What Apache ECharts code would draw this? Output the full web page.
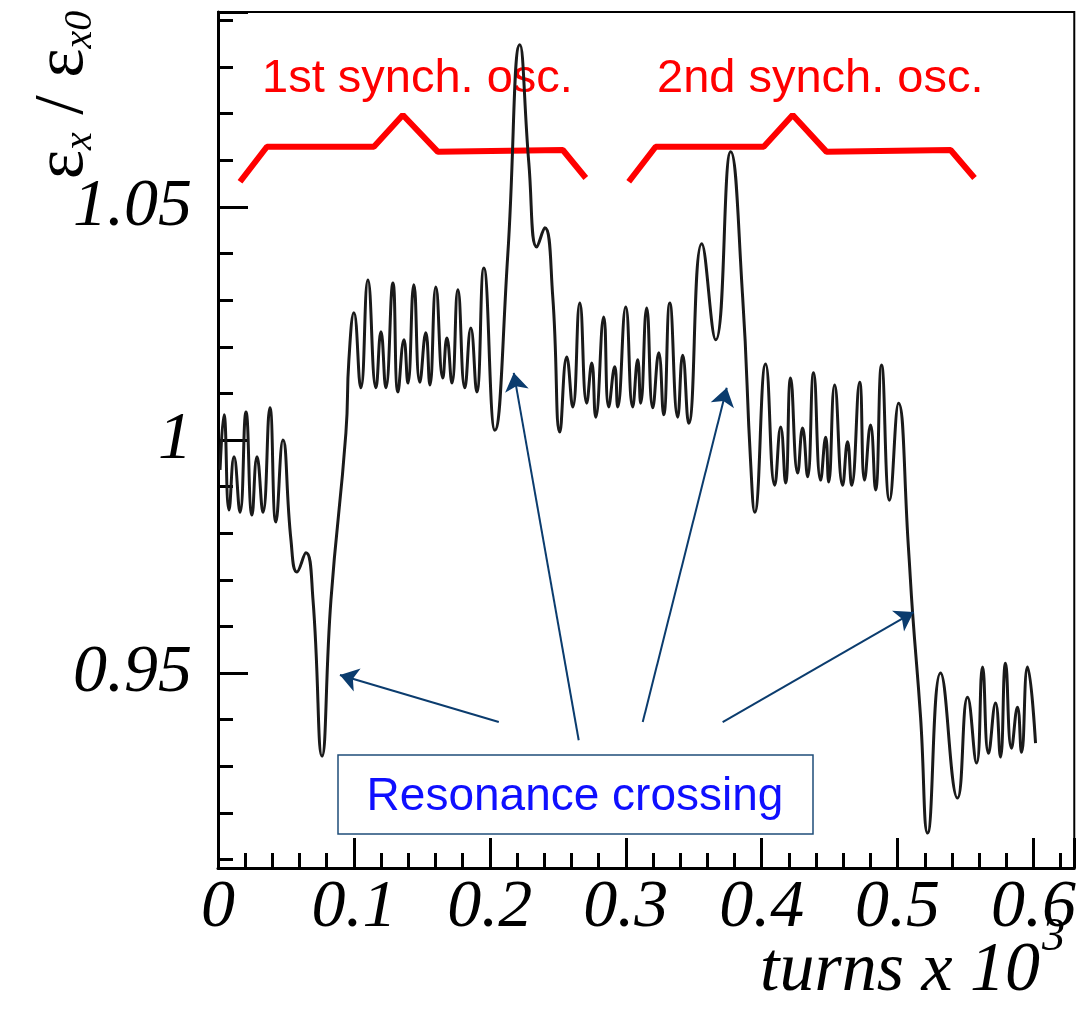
<!DOCTYPE html>
<html>
<head>
<meta charset="utf-8">
<script src="https://cdn.jsdelivr.net/npm/echarts@6/dist/echarts.min.js"></script>
<style>
html, body { margin: 0; padding: 0; background: #fff; }
#chart { width: 1079px; height: 1009px; }
</style>
</head>
<body>
<div id="chart"></div>
<script>
// turns (x 10^3) and emittance ratio
var turns = [0.0015,0.0044,0.0081,0.0118,0.0162,0.0206,0.0250,0.0287,0.0331,0.0382,
  0.0426,0.0478,0.0537,0.0581,0.0647,0.0699,0.0765,0.0831,0.0941,0.0963,
  0.1000,0.1051,0.1103,0.1162,0.1199,0.1235,0.1287,0.1324,0.1368,0.1397,
  0.1441,0.1485,0.1529,0.1559,0.1603,0.1654,0.1684,0.1721,0.1765,0.1816,
  0.1860,0.1904,0.1956,0.2037,0.2132,0.2221,0.2287,0.2346,0.2404,0.2463,
  0.2515,0.2566,0.2610,0.2662,0.2713,0.2750,0.2779,0.2838,0.2875,0.2919,
  0.2941,0.3000,0.3051,0.3088,0.3110,0.3154,0.3199,0.3243,0.3279,0.3324,
  0.3382,0.3419,0.3463,0.3559,0.3662,0.3772,0.3860,0.3919,0.3949,0.4029,
  0.4096,0.4140,0.4176,0.4213,0.4265,0.4301,0.4338,0.4382,0.4434,0.4471,
  0.4493,0.4537,0.4596,0.4632,0.4662,0.4721,0.4757,0.4801,0.4838,0.4882,
  0.4941,0.5007,0.5081,0.5110,0.5169,0.5221,0.5316,0.5441,0.5515,0.5581,
  0.5625,0.5669,0.5721,0.5757,0.5794,0.5838,0.5882,0.5912,0.5956,0.6015];
var emittance = [0.9936,1.0054,0.9850,0.9964,0.9845,1.0060,0.9839,0.9964,0.9845,1.0069,
  0.9824,1.0000,0.9785,0.9717,0.9758,0.9657,0.9322,0.9657,1.0015,1.0172,
  1.0273,1.0112,1.0343,1.0112,1.0232,1.0112,1.0337,1.0103,1.0215,1.0122,
  1.0333,1.0124,1.0230,1.0118,1.0328,1.0133,1.0219,1.0122,1.0322,1.0112,
  1.0240,1.0103,1.0369,1.0021,1.0397,1.0848,1.0594,1.0414,1.0455,1.0307,
  1.0017,1.0178,1.0071,1.0294,1.0079,1.0165,1.0049,1.0264,1.0071,1.0157,
  1.0071,1.0285,1.0071,1.0172,1.0079,1.0283,1.0069,1.0187,1.0054,1.0294,
  1.0049,1.0182,1.0036,1.0421,1.0215,1.0618,1.0307,0.9951,0.9845,1.0163,
  0.9903,1.0028,0.9908,1.0133,0.9929,1.0026,0.9921,1.0144,0.9914,1.0006,
  0.9910,1.0118,0.9903,0.9996,0.9903,1.0124,0.9914,1.0032,0.9893,1.0161,
  0.9871,1.0079,0.9764,0.9631,0.9406,0.9157,0.9500,0.9232,0.9448,0.9307,
  0.9513,0.9328,0.9436,0.9320,0.9521,0.9339,0.9427,0.9330,0.9513,0.9350];

// red brackets over the two synchrotron oscillations
var bracket1X = [0.0162,0.0360,0.1147,0.1360,0.1618,0.2537,0.2706];
var bracket2X = [0.3022,0.3220,0.4015,0.4228,0.4478,0.5390,0.5566];
var bracketY = [1.0554,1.0629,1.0629,1.0697,1.0618,1.0622,1.0562];

// arrows from the "Resonance crossing" box to the curve
var arrowFromX = [0.2066,0.2654,0.3125,0.3713];
var arrowFromY = [0.9395,0.9356,0.9395,0.9395];
var arrowToX = [0.0897,0.2176,0.3743,0.5118];
var arrowToY = [0.9496,1.0144,1.0112,0.9631];

var xTickStep = 0.1;

function zip(a, b) {
  return a.map(function (v, i) { return [v, b[i]]; });
}

var arrows = arrowFromX.map(function (v, i) {
  return { coords: [[v, arrowFromY[i]], [arrowToX[i], arrowToY[i]]] };
});

var labelFont = {
  fontFamily: "Liberation Serif",
  fontStyle: "italic",
  fontSize: 68,
  color: "#000"
};

var chart = echarts.init(document.getElementById("chart"));

var option = {
  animation: false,
  backgroundColor: "#fff",
  grid: {
    left: 218, top: 12, right: 4, bottom: 141,
    show: true, borderColor: "#000", borderWidth: 2
  },
  xAxis: {
    type: "value",
    min: 0,
    max: 0.63,
    interval: xTickStep,
    axisLine: { lineStyle: { color: "#000", width: 3 } },
    axisTick: { inside: true, length: 30, lineStyle: { color: "#000", width: 3 } },
    minorTick: { show: true, splitNumber: 5, length: 15, lineStyle: { color: "#000", width: 3 } },
    splitLine: { show: false },
    axisLabel: Object.assign({ margin: 6, showMaxLabel: false }, labelFont)
  },
  yAxis: {
    type: "value",
    min: 0.9082,
    max: 1.0918,
    splitNumber: 4,
    axisLine: { lineStyle: { color: "#000", width: 3 } },
    axisTick: { inside: true, length: 30, lineStyle: { color: "#000", width: 3 } },
    minorTick: { show: true, splitNumber: 5, length: 15, lineStyle: { color: "#000", width: 3 } },
    splitLine: { show: false },
    axisLabel: Object.assign({ margin: 26, showMinLabel: false, showMaxLabel: false }, labelFont)
  },
  series: [
    {
      name: "bracket1",
      type: "line",
      data: zip(bracket1X, bracketY),
      symbol: "none",
      lineStyle: { color: "#ff0000", width: 6 },
      z: 2
    },
    {
      name: "bracket2",
      type: "line",
      data: zip(bracket2X, bracketY),
      symbol: "none",
      lineStyle: { color: "#ff0000", width: 6 },
      z: 2
    },
    {
      name: "emittance",
      type: "line",
      data: zip(turns, emittance),
      symbol: "none",
      smooth: 0.5,
      lineStyle: { color: "#1a1a1a", width: 3 },
      z: 4
    },
    {
      name: "arrows",
      type: "lines",
      coordinateSystem: "cartesian2d",
      data: arrows,
      symbol: ["none", "arrow"],
      symbolSize: 18,
      lineStyle: { color: "#0b3c6e", width: 2, opacity: 1 },
      z: 5
    }
  ],
  graphic: [
    {
      type: "text", left: 262, top: 56, z: 3,
      style: { text: "1st synch. osc.", font: "47px 'Liberation Sans'", fill: "#ff0000" }
    },
    {
      type: "text", left: 657, top: 56, z: 3,
      style: { text: "2nd synch. osc.", font: "47px 'Liberation Sans'", fill: "#ff0000" }
    },
    {
      type: "rect", z: 10,
      shape: { x: 338, y: 755, width: 475, height: 79 },
      style: { fill: "#fff", stroke: "#1f4e79", lineWidth: 1.5 }
    },
    {
      type: "text", x: 575, y: 797, z: 11,
      style: {
        text: "Resonance crossing", font: "46px 'Liberation Sans'", fill: "#0f0fff",
        align: "center", verticalAlign: "middle"
      }
    },
    {
      type: "text", x: 1040, y: 972, z: 11,
      style: {
        text: "turns x 10", font: "italic 70px 'Liberation Serif'", fill: "#000",
        align: "right", verticalAlign: "middle"
      }
    },
    {
      type: "text", x: 1042, y: 938, z: 11,
      style: {
        text: "3", font: "italic 46px 'Liberation Serif'", fill: "#000",
        align: "left", verticalAlign: "middle"
      }
    },
    {
      type: "text", x: 64, y: 95, rotation: Math.PI / 2, z: 11,
      style: {
        text: "{e|ε}{s|x}{e| / ε}{s|x0}",
        align: "center", verticalAlign: "middle",
        rich: {
          e: { fontFamily: "Liberation Serif", fontSize: 70, lineHeight: 72, verticalAlign: "middle", fill: "#000" },
          s: { fontFamily: "Liberation Serif", fontStyle: "italic", fontSize: 40, lineHeight: 40, verticalAlign: "bottom", fill: "#000" }
        }
      }
    }
  ]
};

chart.setOption(option);
</script>
</body>
</html>
